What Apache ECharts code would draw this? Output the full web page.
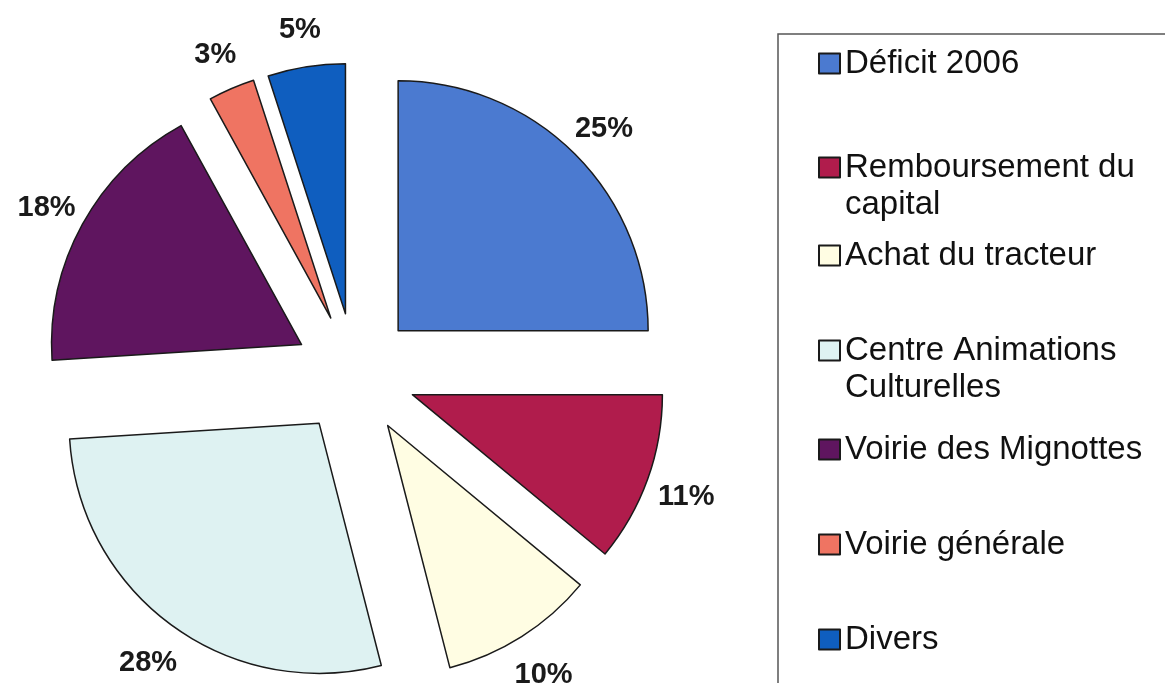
<!DOCTYPE html>
<html>
<head>
<meta charset="utf-8">
<script src="https://cdn.jsdelivr.net/npm/echarts@6/dist/echarts.min.js"></script>
<style>
html,body{margin:0;padding:0;background:#fff;}
#chart{width:1165px;height:683px;}
</style>
</head>
<body>
<div id="chart"></div>
<script>
const categories = ['Déficit 2006', 'Remboursement du capital', 'Achat du tracteur', 'Centre Animations Culturelles', 'Voirie des Mignottes', 'Voirie générale', 'Divers'];
const legendLabels = ['Déficit 2006', 'Remboursement du\ncapital', 'Achat du tracteur', 'Centre Animations\nCulturelles', 'Voirie des Mignottes', 'Voirie générale', 'Divers'];
const values = [25, 11, 10, 28, 18, 3, 5];
const colors = ['#4B7AD0', '#B01C4C', '#FFFDE3', '#DEF2F2', '#5F155F', '#EF7462', '#0F5EBF'];

// layout constants (legend item tops)
const legendTops = [45, 112, 237, 295, 431, 526, 621];

const FONT = '"Liberation Sans", Arial, sans-serif';
const chart = echarts.init(document.getElementById('chart'));

const pieData = categories.map((n, i) => ({
  name: n, value: values[i], selected: true,
  itemStyle: { color: colors[i] }
}));
const labelData = categories.map((n, i) => ({
  name: n, value: values[i], selected: true
}));

const legends = categories.map((n, i) => {
  const twoLine = legendLabels[i].indexOf('\n') >= 0;
  // a blank first line keeps the icon level with the first text line
  const txt = twoLine ? ' \n' + legendLabels[i] : legendLabels[i];
  return {
    data: [n],
    orient: 'vertical',
    left: 818,
    top: legendTops[i],
    padding: 0,
    icon: 'rect',
    itemWidth: 21,
    itemHeight: 20,
    selectedMode: false,
    formatter: () => txt,
    textStyle: {
      fontFamily: FONT, fontSize: 33, color: '#111', lineHeight: 37
    }
  };
});

const option = {
  backgroundColor: '#ffffff',
  animation: false,
  legend: legends,
  graphic: [{
    type: 'rect',
    shape: { x: 778, y: 34, width: 420, height: 700 },
    style: { fill: 'none', stroke: '#555', lineWidth: 1.5 },
    silent: true
  }],
  series: [{
    type: 'pie',
    center: [355, 374],
    radius: [0, 250],
    startAngle: 90,
    clockwise: true,
    selectedMode: 'multiple',
    selectedOffset: 61,
    avoidLabelOverlap: false,
    label: { show: false },
    labelLine: { show: false },
    itemStyle: { borderColor: '#1a1a1a', borderWidth: 1.5 },
    select: { itemStyle: { borderColor: '#1a1a1a', borderWidth: 1.5 } },
    emphasis: { disabled: true },
    data: pieData
  }, {
    type: 'pie',
    center: [355, 378],
    radius: [276, 300],
    startAngle: 90,
    clockwise: true,
    selectedMode: 'multiple',
    selectedOffset: 61,
    silent: true,
    avoidLabelOverlap: false,
    itemStyle: { color: 'rgba(0,0,0,0)', borderWidth: 0 },
    select: { itemStyle: { color: 'rgba(0,0,0,0)', borderWidth: 0 } },
    emphasis: { disabled: true },
    labelLine: { show: false },
    label: {
      show: true, position: 'inside',
      formatter: '{d}%',
      fontFamily: FONT, fontWeight: 'bold', fontSize: 29, color: '#1a1a1a'
    },
    data: labelData
  }]
};
chart.setOption(option);
</script>
</body>
</html>
